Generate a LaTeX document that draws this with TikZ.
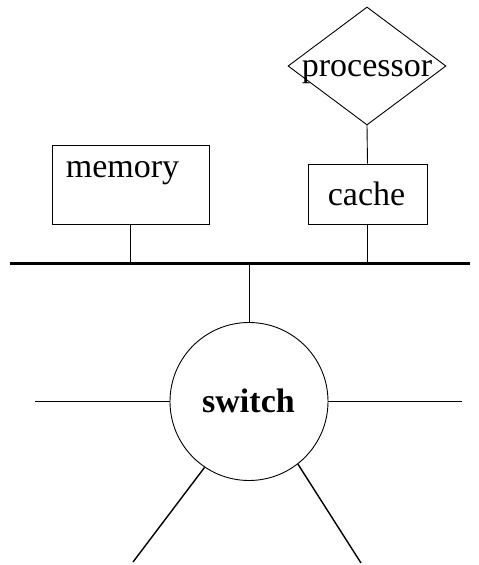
\documentclass[tikz,border=0pt]{standalone}
\usepackage{fontspec}
\setmainfont{Liberation Serif}
\usetikzlibrary{shapes.geometric}
\begin{document}
\begin{tikzpicture}[x=1pt,y=-1pt,
  thin line/.style={line width=0.9pt},
  box/.style={draw,thin line,rectangle,inner sep=0pt},
  label text/.style={font=\fontsize{34}{40}\selectfont,anchor=base,inner sep=0pt},
  spoke/.style={line width=1.4pt}]
  \useasboundingbox (0,0) rectangle (479,565);

  % processor diamond and its label
  \node[draw,thin line,diamond,minimum width=158pt,minimum height=118pt,inner sep=0pt] (proc) at (367,66) {};
  \node[label text] (proclbl) at (367,76) {processor};

  % memory and cache boxes
  \node[box,minimum width=157pt,minimum height=79pt] (mem) at (130.5,184.5) {};
  \node[label text] (memlbl) at (122.5,177) {memory};
  \node[box,minimum width=119pt,minimum height=60pt] (cache) at (367.5,194) {};
  \node[label text] (cachelbl) at (366.5,205) {cache};

  % bus
  \coordinate (busL) at (10,263);
  \coordinate (busR) at (470,263);
  \draw[line width=3pt] (busL) -- (busR);

  % switch
  \node[draw,thin line,circle,minimum size=158pt,inner sep=0pt] (sw) at (249,401.5) {};
  \node[label text,font=\fontsize{34}{40}\selectfont\bfseries] (swlbl) at (248.5,412) {switch};

  % attachments to the bus
  \draw[thin line] (proc.south) -- (cache.north);
  \draw[thin line] (mem.south) -- (mem.south |- busL);
  \draw[thin line] (cache.south) -- (cache.south |- busL);
  \draw[thin line] (sw.north) -- (sw.north |- busL);

  % switch ports
  \coordinate (pL) at (35,401.5);
  \coordinate (pR) at (462,401.5);
  \coordinate (pBL) at (133,562);
  \coordinate (pBR) at (361,563);
  \draw[line width=1.2pt] (pL) -- (sw.west);
  \draw[thin line] (sw.east) -- (pR);
  \draw[spoke] (sw.236) -- (pBL);
  \draw[spoke] (sw.308) -- (pBR);
\end{tikzpicture}
\end{document}
